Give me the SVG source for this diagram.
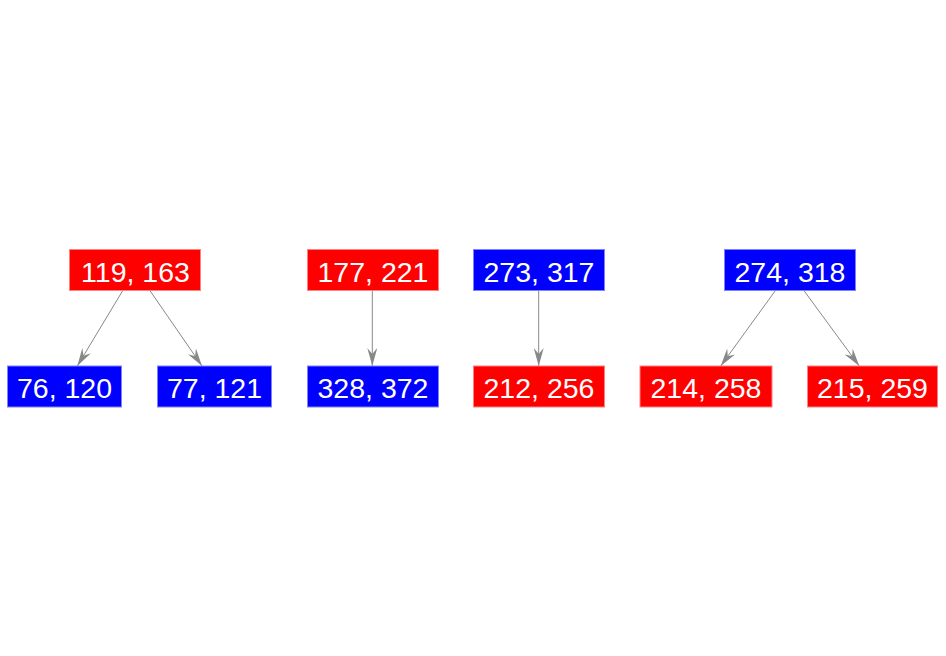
<svg xmlns="http://www.w3.org/2000/svg" width="946" height="656" viewBox="0 0 946 656">
<style>
.red rect{fill:#ff0000;stroke:#ff8080;stroke-width:1}
.blue rect{fill:#0000ff;stroke:#8080ff;stroke-width:1}
text{font-family:"Liberation Sans",Arial,sans-serif;font-size:28.5px;fill:#ffffff;text-anchor:middle}
.edge{stroke:#888888;stroke-width:1;fill:none;marker-end:url(#arr)}
</style>
<defs>
<marker id="arr" markerUnits="userSpaceOnUse" markerWidth="18" markerHeight="10" refX="18" refY="5" orient="auto" viewBox="0 0 18 10">
<path d="M0,0 L18,5 L0,10 L6,5 z" fill="#888888"/>
</marker>
</defs>
<rect width="946" height="656" fill="#ffffff"/>
<g id="edges">
<line class="edge" x1="122.7" y1="290.7" x2="77.3" y2="366"/>
<line class="edge" x1="150" y1="290.7" x2="202" y2="366"/>
<line class="edge" x1="372.3" y1="290.7" x2="372.3" y2="366"/>
<line class="edge" x1="538.7" y1="290.7" x2="538.7" y2="366"/>
<line class="edge" x1="775.3" y1="290.7" x2="720.7" y2="366"/>
<line class="edge" x1="804" y1="290.7" x2="859.3" y2="366"/>
</g>
<g id="n119" class="red"><rect x="69.5" y="249.5" width="131" height="41"/><text x="135.5" y="281.5">119, 163</text></g>
<g id="n76" class="blue"><rect x="7.5" y="366" width="114" height="41"/><text x="64.5" y="398">76, 120</text></g>
<g id="n77" class="blue"><rect x="157.5" y="366" width="114" height="41"/><text x="214.5" y="398">77, 121</text></g>
<g id="n177" class="red"><rect x="307.5" y="249.5" width="131" height="41"/><text x="373" y="281.5">177, 221</text></g>
<g id="n328" class="blue"><rect x="307.5" y="366" width="131" height="41"/><text x="373" y="398">328, 372</text></g>
<g id="n273" class="blue"><rect x="473.5" y="249.5" width="131" height="41"/><text x="539" y="281.5">273, 317</text></g>
<g id="n212" class="red"><rect x="473.5" y="366" width="131" height="41"/><text x="539" y="398">212, 256</text></g>
<g id="n274" class="blue"><rect x="724.5" y="249.5" width="131" height="41"/><text x="790" y="281.5">274, 318</text></g>
<g id="n214" class="red"><rect x="640" y="366" width="132" height="41"/><text x="706" y="398">214, 258</text></g>
<g id="n215" class="red"><rect x="807.5" y="366" width="130" height="41"/><text x="872.5" y="398">215, 259</text></g>
</svg>
